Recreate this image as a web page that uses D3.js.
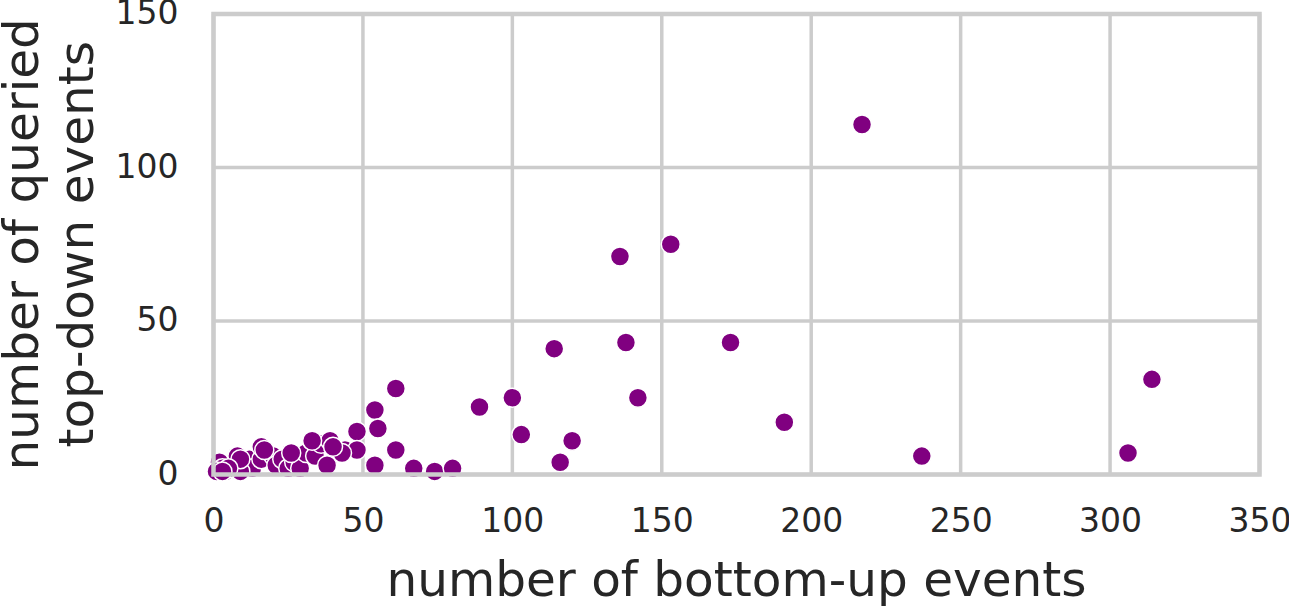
<!DOCTYPE html>
<html>
<head>
<meta charset="utf-8">
<script src="https://d3js.org/d3.v7.min.js"></script>
<style>
  body { margin: 0; background: #fff; }
  svg { display: block; font-family: "DejaVu Sans", sans-serif; }
</style>
</head>
<body>
<div class="chart"></div>
<script>
// chart data
var bottomUp = [
  217, 136, 153, 114, 138, 173, 314, 61, 89, 100, 142, 54, 55, 103, 120, 191,
  61, 116, 237, 306, 54, 67, 74, 80,
  2, 3, 8, 8, 12, 13, 16, 16, 20, 21, 23, 25, 27, 29, 31, 33, 34, 36, 38, 39,
  44, 48, 48, 33, 9, 4, 43, 40, 26, 17, 9, 1, 5, 3
];
var topDown = [
  114, 71, 75, 41, 43, 43, 31, 28, 22, 25, 25, 21, 15, 13, 11, 17,
  8, 4, 6, 7, 3, 2, 1, 2,
  4, 2, 2, 6, 5, 2, 5, 9, 6, 3, 5, 2, 4, 2, 7, 11, 6, 10, 3, 11,
  8, 14, 8, 11, 1, 1, 7, 9, 7, 8, 5, 1, 2, 1
];
var xTicks = [0, 50, 100, 150, 200, 250, 300, 350];
var yTicks = [0, 50, 100, 150];

var width = 1289;
var height = 608;
var plotL = 213.5, plotR = 1259.5, plotT = 14, plotB = 474.5;

var svg = d3.select(".chart")
  .append("svg")
    .attr("width", width)
    .attr("height", height);

var x = d3.scaleLinear().domain([0, 350]).range([plotL, plotR]);
var y = d3.scaleLinear().domain([0, 150]).range([plotB, plotT]);

// grid
var grid = svg.append("g");
grid.selectAll("line.vx")
  .data(xTicks)
  .enter()
  .append("line")
    .attr("x1", function(d) { return x(d); })
    .attr("x2", function(d) { return x(d); })
    .attr("y1", plotT)
    .attr("y2", plotB)
    .style("stroke", "#cccccc")
    .style("stroke-width", 3.5);
grid.selectAll("line.hy")
  .data(yTicks)
  .enter()
  .append("line")
    .attr("x1", plotL)
    .attr("x2", plotR)
    .attr("y1", function(d) { return y(d); })
    .attr("y2", function(d) { return y(d); })
    .style("stroke", "#cccccc")
    .style("stroke-width", 3.5);

// points
svg.append("g")
  .selectAll("circle")
  .data(d3.range(bottomUp.length))
  .enter()
  .append("circle")
    .attr("cx", function(i) { return x(bottomUp[i]); })
    .attr("cy", function(i) { return y(topDown[i]); })
    .attr("r", 9.5)
    .style("fill", "#800080")
    .style("stroke", "white")
    .style("stroke-width", 1.5);

// frame
svg.append("rect")
  .attr("x", plotL)
  .attr("y", plotT)
  .attr("width", plotR - plotL)
  .attr("height", plotB - plotT)
  .style("fill", "none")
  .style("stroke", "#cccccc")
  .style("stroke-width", 4.5);

// axes (labels only)
var xAxis = svg.append("g")
  .attr("transform", "translate(0," + (plotB + 34) + ")")
  .call(d3.axisBottom(x).tickValues(xTicks).tickSize(0).tickPadding(0));
var yAxis = svg.append("g")
  .attr("transform", "translate(" + (plotL - 35) + ",0)")
  .call(d3.axisLeft(y).tickValues(yTicks).tickSize(0).tickPadding(0));
svg.selectAll(".domain").remove();
xAxis.selectAll("text")
  .attr("dy", "0.71em")
  .style("font-size", "33px")
  .style("font-family", "DejaVu Sans")
  .style("fill", "#262626");
yAxis.selectAll("text")
  .attr("dy", "0.3em")
  .style("font-size", "33px")
  .style("font-family", "DejaVu Sans")
  .style("fill", "#262626");

// axis titles
svg.append("text")
  .attr("x", (plotL + plotR) / 2 - 0)
  .attr("y", 596)
  .attr("text-anchor", "middle")
  .style("font-size", "48.5px")
  .style("fill", "#262626")
  .text("number of bottom-up events");

svg.append("text")
  .attr("transform", "translate(38," + ((plotT + plotB) / 2) + ") rotate(-90)")
  .attr("text-anchor", "middle")
  .style("font-size", "48.5px")
  .style("fill", "#262626")
  .text("number of queried");
svg.append("text")
  .attr("transform", "translate(93," + ((plotT + plotB) / 2) + ") rotate(-90)")
  .attr("text-anchor", "middle")
  .style("font-size", "48.5px")
  .style("fill", "#262626")
  .text("top-down events");
</script>
</body>
</html>
